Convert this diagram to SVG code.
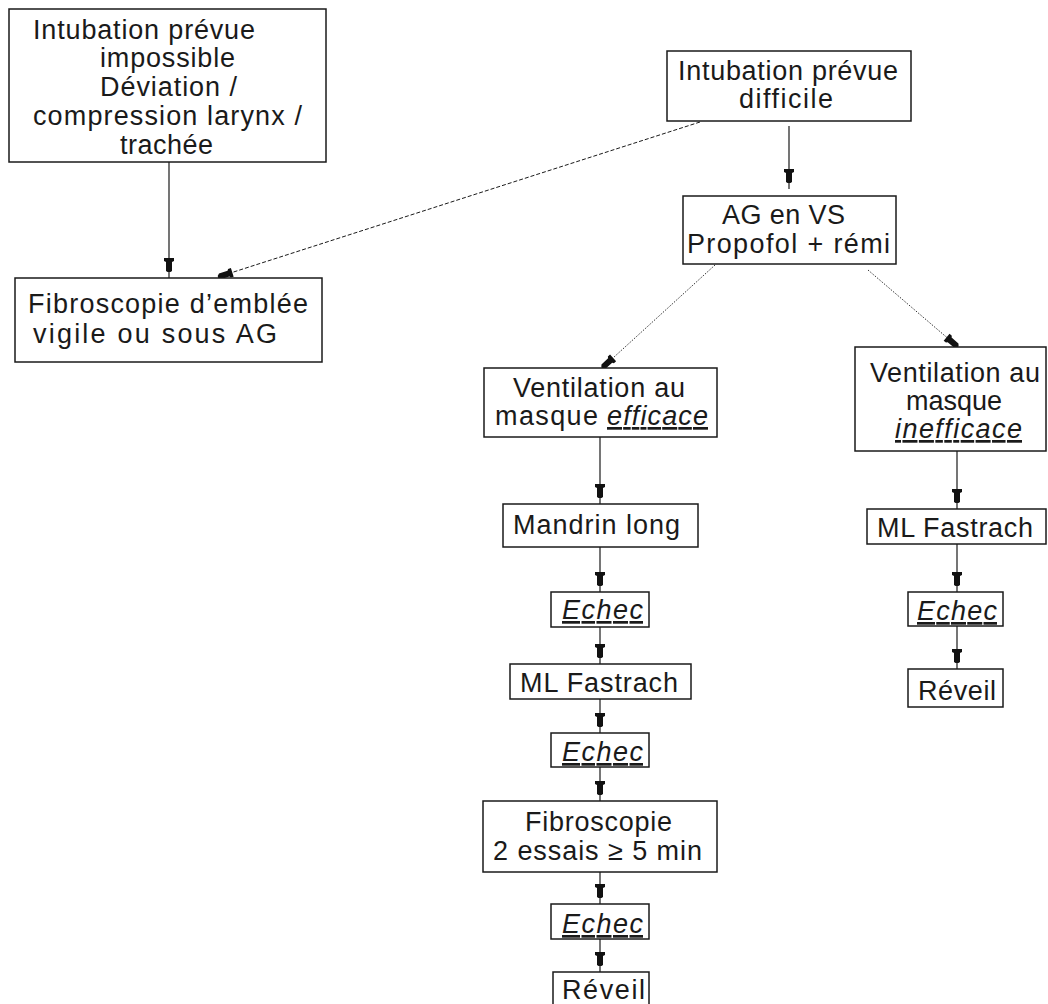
<svg xmlns="http://www.w3.org/2000/svg" width="1048" height="1004" viewBox="0 0 1048 1004">
<style>
  .box { fill: #ffffff; stroke: #1a1a1a; stroke-width: 1.5; }
  .t { font-family: "Liberation Sans", Arial, sans-serif; font-size: 27px; fill: #1a1a1a; }
  .it { font-style: italic; text-decoration: underline; }
  .c { fill: none; stroke: #1a1a1a; stroke-width: 1.2; }
  .dash { stroke-dasharray: 4 2; stroke-width: 1; }
  .dot { stroke-dasharray: 1.5 1.5; stroke-width: 1; stroke: #333; }
</style>
<defs>
  <marker id="ah" markerUnits="userSpaceOnUse" orient="auto" refX="0" refY="0" markerWidth="30" markerHeight="30" style="overflow:visible">
    <path d="M-20,-5 L-17,-5 L-16,-3 L-7,-3 L-6,-1.5 L-6,1.5 L-7,3 L-16,3 L-17,5 L-20,5 Z" fill="#111"/>
  </marker>
  <marker id="ahd" markerUnits="userSpaceOnUse" orient="auto" refX="0" refY="0" markerWidth="30" markerHeight="30" style="overflow:visible">
    <path d="M-15,-4.5 L-12,-4.5 L-11,-3 L-2,-3 L0,-1 L0,1 L-2,3 L-11,3 L-12,4.5 L-15,4.5 Z" fill="#111"/>
  </marker>
</defs>

<g id="connectors">
  <line class="c" x1="169" y1="162" x2="169" y2="278" marker-end="url(#ah)"/>
  <line class="c dash" x1="700" y1="122" x2="218" y2="277" marker-end="url(#ahd)"/>
  <line class="c" x1="789" y1="126" x2="789" y2="189" marker-end="url(#ah)"/>
  <line class="c dot" x1="715" y1="265" x2="602" y2="368" marker-end="url(#ahd)"/>
  <line class="c dot" x1="868" y1="270" x2="958" y2="347" marker-end="url(#ahd)"/>
  <line class="c" x1="600" y1="437" x2="600" y2="504" marker-end="url(#ah)"/>
  <line class="c" x1="600" y1="547" x2="600" y2="592" marker-end="url(#ah)"/>
  <line class="c" x1="600" y1="627" x2="600" y2="664" marker-end="url(#ah)"/>
  <line class="c" x1="600" y1="699" x2="600" y2="733" marker-end="url(#ah)"/>
  <line class="c" x1="600" y1="767" x2="600" y2="801" marker-end="url(#ah)"/>
  <line class="c" x1="600" y1="872" x2="600" y2="904" marker-end="url(#ah)"/>
  <line class="c" x1="600" y1="939" x2="600" y2="972" marker-end="url(#ah)"/>
  <line class="c" x1="957" y1="451" x2="957" y2="509" marker-end="url(#ah)"/>
  <line class="c" x1="957" y1="544" x2="957" y2="592" marker-end="url(#ah)"/>
  <line class="c" x1="957" y1="626" x2="957" y2="669" marker-end="url(#ah)"/>
</g>

<g id="n-impossible">
  <rect class="box" x="9" y="9" width="317" height="153"/>
  <text class="t" x="33" y="39" textLength="222" lengthAdjust="spacing">Intubation prévue</text>
  <text class="t" x="100" y="67" textLength="135" lengthAdjust="spacing">impossible</text>
  <text class="t" x="100" y="96" textLength="137" lengthAdjust="spacing">Déviation /</text>
  <text class="t" x="33" y="125" textLength="269" lengthAdjust="spacing">compression larynx /</text>
  <text class="t" x="120" y="154" textLength="93" lengthAdjust="spacing">trachée</text>
</g>

<g id="n-fibro-emblee">
  <rect class="box" x="15" y="278" width="307" height="84"/>
  <text class="t" x="28" y="313" textLength="280" lengthAdjust="spacing">Fibroscopie d’emblée</text>
  <text class="t" x="33" y="343" textLength="244" lengthAdjust="spacing">vigile ou sous AG</text>
</g>

<g id="n-difficile">
  <rect class="box" x="667" y="51" width="244" height="70"/>
  <text class="t" x="678" y="80" textLength="220" lengthAdjust="spacing">Intubation prévue</text>
  <text class="t" x="739" y="108" textLength="94" lengthAdjust="spacing">difficile</text>
</g>

<g id="n-ag">
  <rect class="box" x="683" y="196" width="213" height="68"/>
  <text class="t" x="722" y="224" textLength="123" lengthAdjust="spacing">AG en VS</text>
  <text class="t" x="687" y="253" textLength="203" lengthAdjust="spacing">Propofol + rémi</text>
</g>

<g id="n-efficace">
  <rect class="box" x="484" y="368" width="233" height="69"/>
  <text class="t" x="513" y="397" textLength="172" lengthAdjust="spacing">Ventilation au</text>
  <text class="t" x="495" y="425" textLength="103" lengthAdjust="spacing">masque</text>
  <text class="t it" x="607" y="425" textLength="101" lengthAdjust="spacing">efficace</text>
</g>

<g id="n-inefficace">
  <rect class="box" x="855" y="347" width="191" height="104"/>
  <text class="t" x="870" y="382" textLength="170" lengthAdjust="spacing">Ventilation au</text>
  <text class="t" x="906" y="410" textLength="96" lengthAdjust="spacing">masque</text>
  <text class="t it" x="895" y="438" textLength="127" lengthAdjust="spacing">inefficace</text>
</g>

<g id="n-mandrin">
  <rect class="box" x="503" y="504" width="195" height="43"/>
  <text class="t" x="513" y="534" textLength="167" lengthAdjust="spacing">Mandrin long</text>
</g>

<g id="n-echec1">
  <rect class="box" x="551" y="592" width="98" height="35"/>
  <text class="t it" x="562" y="619" textLength="81" lengthAdjust="spacing">Echec</text>
</g>

<g id="n-fastrach1">
  <rect class="box" x="510" y="664" width="181" height="35"/>
  <text class="t" x="520" y="692" textLength="158" lengthAdjust="spacing">ML Fastrach</text>
</g>

<g id="n-echec2">
  <rect class="box" x="551" y="733" width="98" height="34"/>
  <text class="t it" x="562" y="761" textLength="81" lengthAdjust="spacing">Echec</text>
</g>

<g id="n-fibroscopie">
  <rect class="box" x="483" y="801" width="234" height="71"/>
  <text class="t" x="525" y="831" textLength="147" lengthAdjust="spacing">Fibroscopie</text>
  <text class="t" x="493" y="860" textLength="209" lengthAdjust="spacing">2 essais ≥ 5 min</text>
</g>

<g id="n-echec3">
  <rect class="box" x="551" y="904" width="98" height="35"/>
  <text class="t it" x="562" y="933" textLength="81" lengthAdjust="spacing">Echec</text>
</g>

<g id="n-reveil1">
  <rect class="box" x="553" y="972" width="96" height="40"/>
  <text class="t" x="562" y="999" textLength="83" lengthAdjust="spacing">Réveil</text>
</g>

<g id="n-fastrach2">
  <rect class="box" x="867" y="509" width="179" height="35"/>
  <text class="t" x="877" y="537" textLength="156" lengthAdjust="spacing">ML Fastrach</text>
</g>

<g id="n-echec4">
  <rect class="box" x="908" y="592" width="95" height="34"/>
  <text class="t it" x="917" y="620" textLength="80" lengthAdjust="spacing">Echec</text>
</g>

<g id="n-reveil2">
  <rect class="box" x="908" y="669" width="95" height="38"/>
  <text class="t" x="918" y="700" textLength="78" lengthAdjust="spacing">Réveil</text>
</g>
</svg>
